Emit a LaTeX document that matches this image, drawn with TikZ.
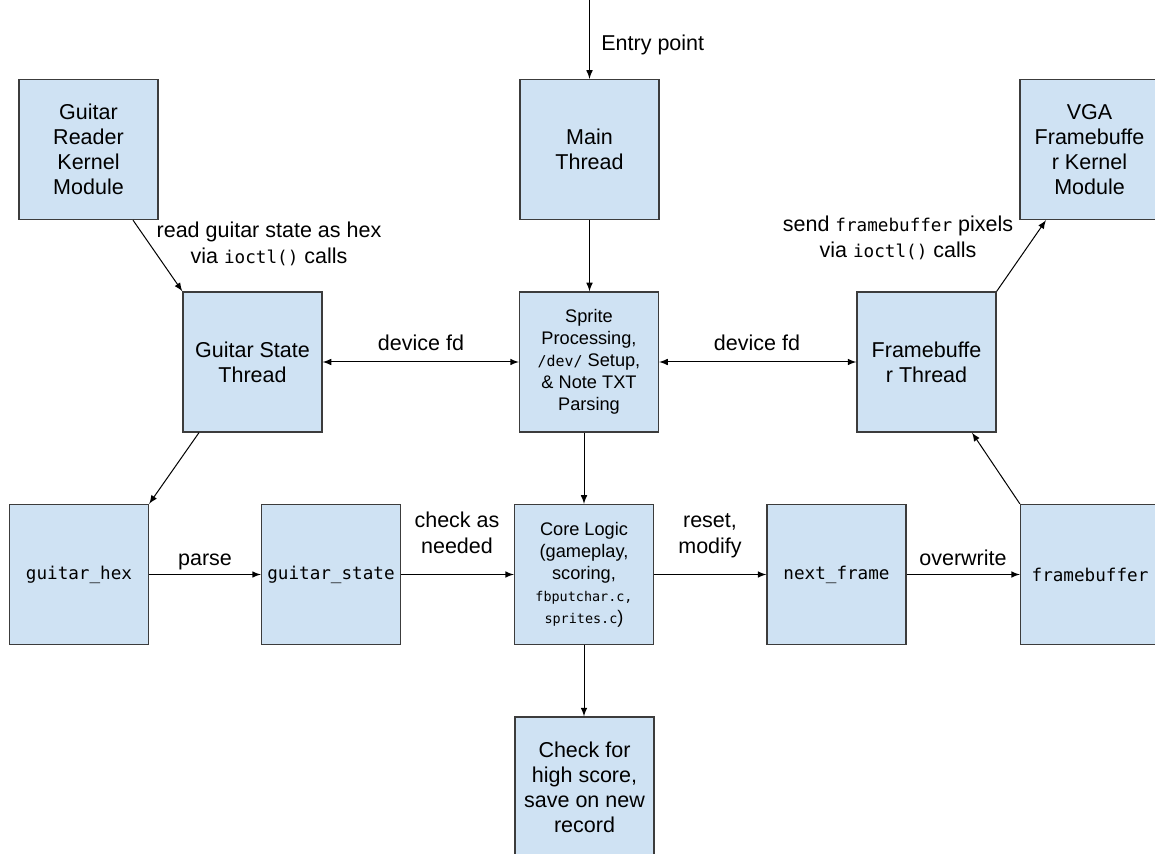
\documentclass[tikz,border=0pt]{standalone}
\usepackage{fontspec}
\setmainfont{Liberation Sans}
\setmonofont[Scale=0.82]{DejaVu Sans Mono}
\usepackage{tikz}
\usetikzlibrary{calc}
\definecolor{boxblue}{HTML}{CFE2F3}
\definecolor{boxline}{HTML}{3C3C3C}
\tikzstyle{flow}=[
  x=0.5pt,y=-0.5pt,>=latex
]
\tikzstyle{block}=[
  draw=boxline,fill=boxblue,line width=0.65pt,minimum width=69.5pt,
  minimum height=70pt,inner sep=2pt,align=center,
  font=\fontsize{10.75}{12.5}\selectfont
]
\tikzstyle{smallblock}=[
  block,font=\fontsize{9.1}{11}\selectfont
]
\tikzstyle{lbl}=[
  inner sep=0pt,align=center,text height=7.7pt,text depth=0pt,
  font=\fontsize{10.75}{13}\selectfont
]
\tikzstyle{link}=[
  ->,line width=0.5pt
]
\newcommand{\code}[1]{\texttt{#1}}
\newcommand{\tinycode}[1]{{\fontsize{8.2}{11}\selectfont\texttt{#1}}}

\begin{document}
\begin{tikzpicture}[flow]
    \useasboundingbox (0,0) rectangle (1155,854);
    % top row
    \node (reader) at (88.5,149.5) [block] {Guitar\\Reader\\Kernel\\Module};
    \node (main) at (589.5,149.5) [block] {Main\\Thread};
    \node (vga) at (1089.5,149.5) [block] {VGA\\Framebuffe\\r Kernel\\Module};
    % threads
    \node (gstate) at (252.5,362) [block] {Guitar State\\Thread};
    \node (sprite) at (589,362) [smallblock] {Sprite\\Processing,\\\code{/dev/} Setup,\\\& Note TXT\\Parsing};
    \node (fbthread) at (926.5,362) [block] {Framebuffe\\r Thread};
    % data
    \node (hex) at (79,574.5) [block] {\code{guitar\_hex}};
    \node (gst) at (331,574.5) [block] {\code{guitar\_state}};
    \node (core) at (584,574.5) [smallblock] {Core Logic\\(gameplay,\\scoring,\\\tinycode{fbputchar.c,}\\\tinycode{sprites.c})};
    \node (next) at (836.5,574.5) [block] {\code{next\_frame}};
    \node (fbuf) at (1090,574.5) [block] {\code{framebuffer}};
    \node (check) at (584.5,787) [block] {Check for\\high score,\\save on new\\record};
    \coordinate (entry) at (589.5,0);

    \draw [link] (entry) -- (main);
    \draw [link] (main) -- (sprite.north -| main);
    \draw [link] ([xshift=22.25pt]reader.south) -- (gstate.north west);
    \draw [link] ([xshift=-26.75pt]gstate.south) -- (hex.north east);
    \draw [link] (fbthread.north east) -- ([xshift=-21.75pt]vga.south);
    \draw [link] (fbuf.north west) -- ([xshift=22.75pt]fbthread.south);
    \draw [link, <->] (gstate) -- (sprite);
    \draw [link, <->] (sprite) -- (fbthread);
    \draw [link] (sprite.south -| core) -- (core);
    \draw [link] (hex) -- (gst);
    \draw [link] (gst) -- (core);
    \draw [link] (core) -- (next);
    \draw [link] (next) -- (fbuf);
    \draw [link] (core) -- (check.north -| core);

    \node (lentry) at (601,43) [lbl, anchor=west] {Entry point};
    \node (lread) at (269,256) [lbl] {read guitar state as hex\\via \code{ioctl()} calls};
    \node (lsend) at (898,250) [lbl] {send \code{framebuffer} pixels\\via \code{ioctl()} calls};
    \node (lfd1) at (421,343) [lbl] {device fd};
    \node (lfd2) at (757,343) [lbl] {device fd};
    \node (lparse) at (205,558) [lbl] {parse};
    \node (lcheck) at (457,546) [lbl] {check as\\needed};
    \node (lreset) at (710,546) [lbl] {reset,\\modify};
    \node (lover) at (963,558) [lbl] {overwrite};
\end{tikzpicture}
\end{document}
